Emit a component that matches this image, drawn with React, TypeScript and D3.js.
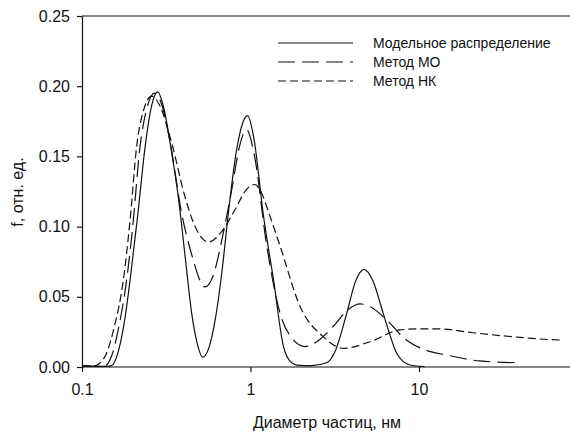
import { useRef, useEffect } from "react";
import * as d3 from "d3";

// diameter (nm), f (rel. units)
const modelData: [number, number][] = [
  [0.1, 0.001], [0.12, 0.0005], [0.14, 0.0005], [0.15, 0.001], [0.165, 0.012], [0.18, 0.035],
  [0.193, 0.062], [0.215, 0.11], [0.237, 0.157], [0.26, 0.187], [0.281, 0.196],
  [0.305, 0.185], [0.335, 0.158], [0.373, 0.121], [0.41, 0.078], [0.448, 0.038],
  [0.48, 0.018], [0.52, 0.007], [0.56, 0.012], [0.62, 0.035], [0.68, 0.07],
  [0.738, 0.109], [0.82, 0.152], [0.9, 0.174], [0.962, 0.179], [1.05, 0.162],
  [1.19, 0.109], [1.37, 0.062], [1.57, 0.0145], [1.72, 0.004], [1.88, 0.0014],
  [2.3, 0.001], [2.83, 0.003], [3.2, 0.012], [3.72, 0.038], [4.2, 0.061],
  [4.72, 0.0696], [5.3, 0.062], [6.14, 0.038], [6.8, 0.021], [7.37, 0.0098],
  [8.85, 0.0014], [10.8, 0.0003],
];

const moData: [number, number][] = [
  [0.1, 0.001], [0.12, 0.0005], [0.137, 0.001], [0.15, 0.008], [0.165, 0.028],
  [0.184, 0.062], [0.2, 0.1], [0.221, 0.157], [0.245, 0.186], [0.269, 0.195],
  [0.295, 0.188], [0.33, 0.163], [0.391, 0.109], [0.458, 0.076], [0.5, 0.062],
  [0.537, 0.057], [0.6, 0.065], [0.68, 0.092], [0.773, 0.126], [0.86, 0.157],
  [0.948, 0.169], [1.05, 0.152], [1.25, 0.086], [1.5, 0.038], [1.75, 0.021],
  [2.1, 0.0145], [2.6, 0.02], [3.1, 0.029], [3.8, 0.041], [4.47, 0.045],
  [5.3, 0.042], [6.43, 0.0335], [8.45, 0.019], [11, 0.012], [14.6, 0.0085],
  [23, 0.0043], [39.8, 0.003],
];

const nkData: [number, number][] = [
  [0.1, 0.001], [0.115, 0.0005], [0.125, 0.002], [0.14, 0.01], [0.155, 0.028],
  [0.176, 0.062], [0.193, 0.105], [0.211, 0.157], [0.235, 0.185], [0.259, 0.193],
  [0.29, 0.186], [0.34, 0.16], [0.409, 0.121], [0.469, 0.1], [0.562, 0.089],
  [0.67, 0.096], [0.809, 0.112], [0.94, 0.126], [1.06, 0.13], [1.14, 0.126],
  [1.3, 0.108], [1.5, 0.086], [1.97, 0.043], [2.7, 0.0216], [3.56, 0.0133],
  [5.12, 0.018], [7.71, 0.0264], [10, 0.0272], [13, 0.0272], [20.9, 0.0244],
  [39.8, 0.0211], [59.9, 0.0195], [70.6, 0.0192],
];

const xTicks = [0.1, 1, 10];
const yTicks = [0, 0.05, 0.1, 0.15, 0.2, 0.25];

const series = [
  { name: "Модельное распределение", data: modelData, dash: "none" },
  { name: "Метод МО", data: moData, dash: "17,7" },
  { name: "Метод НК", data: nkData, dash: "8,4" },
];

const width = 570;
const height = 433;
const margin = { top: 16, right: 0, bottom: 66, left: 82 };

const App = () => {
  const svgRef = useRef<SVGSVGElement>(null);

  useEffect(() => {
    const svg = d3.select(svgRef.current);
    svg.selectAll("*").remove();

    const plotW = width - margin.left - margin.right;
    const plotH = height - margin.top - margin.bottom;
    const font = "'Liberation Sans', Arial, sans-serif";
    const ink = "#111";

    const g = svg.append("g").attr("transform", `translate(${margin.left},${margin.top})`);

    const x = d3.scaleLog().domain([0.1, 80]).range([0, 168.5 * Math.log10(800)]);
    const y = d3.scaleLinear().domain([0, 0.25]).range([plotH, 0]);

    // curves
    const line = d3
      .line<[number, number]>()
      .x((d) => x(d[0]))
      .y((d) => y(d[1]))
      .curve(d3.curveMonotoneX);

    series.forEach((s) => {
      g.append("path")
        .datum(s.data)
        .attr("fill", "none")
        .attr("stroke", ink)
        .attr("stroke-width", 1.2)
        .attr("stroke-dasharray", s.dash)
        .attr("d", line);
    });

    // frame: top line
    g.append("line")
      .attr("x1", 0)
      .attr("x2", plotW)
      .attr("y1", 0)
      .attr("y2", 0)
      .style("stroke", ink)
      .style("stroke-width", 1.2);

    // X axis
    const xAxis = g
      .append("g")
      .attr("transform", `translate(0,${plotH})`)
      .call(
        d3
          .axisBottom(x)
          .tickValues(xTicks)
          .tickFormat((d) => String(d))
          .tickSize(5)
          .tickSizeOuter(0)
          .tickPadding(12)
      );
    xAxis.select(".domain").attr("d", `M0,0H${plotW}`);
    xAxis.selectAll("line, path").style("stroke", ink).style("stroke-width", 1.2);
    xAxis.selectAll("text").style("font-size", "16px").style("font-family", font).style("fill", ink);

    // Y axis
    const yAxis = g
      .append("g")
      .call(
        d3
          .axisLeft(y)
          .tickValues(yTicks)
          .tickFormat(d3.format(".2f"))
          .tickSize(5)
          .tickSizeOuter(0)
          .tickPadding(7)
      );
    yAxis.selectAll("line, path").style("stroke", ink).style("stroke-width", 1.2);
    yAxis.selectAll("text").style("font-size", "16px").style("font-family", font).style("fill", ink);

    // axis titles
    svg
      .append("text")
      .attr("x", 327)
      .attr("y", 428)
      .attr("text-anchor", "middle")
      .style("font-size", "16px")
      .style("font-family", font)
      .style("fill", ink)
      .text("Диаметр частиц, нм");

    svg
      .append("text")
      .attr("transform", `translate(23,192) rotate(-90)`)
      .attr("text-anchor", "middle")
      .style("font-size", "16px")
      .style("font-family", font)
      .style("fill", ink)
      .text("f, отн. ед.");

    // legend
    series.forEach((s, i) => {
      const ly = 43 + i * 19;
      svg
        .append("line")
        .attr("x1", 278)
        .attr("x2", 353)
        .attr("y1", ly)
        .attr("y2", ly)
        .attr("stroke", ink)
        .attr("stroke-width", 1.2)
        .attr("stroke-dasharray", s.dash);
      svg
        .append("text")
        .attr("x", 373)
        .attr("y", ly + 5)
        .style("font-size", "14px")
        .style("font-family", font)
        .style("fill", ink)
        .text(s.name);
    });
  }, []);

  return (
    <svg
      ref={svgRef}
      width={width}
      height={height}
      style={{ position: "absolute", left: 0, top: 0, background: "#fff" }}
    ></svg>
  );
};

export default App;
